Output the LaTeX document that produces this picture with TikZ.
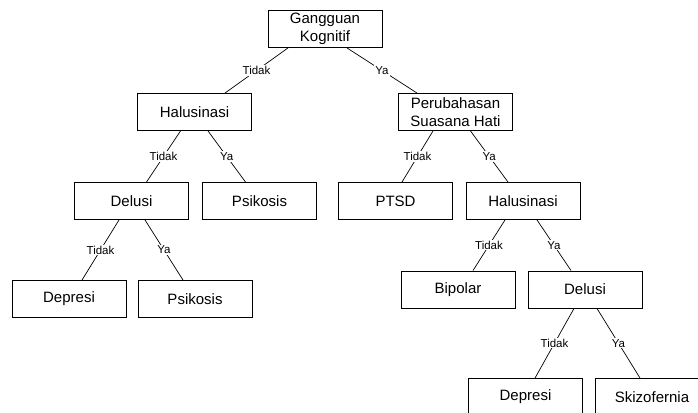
\documentclass[tikz,border=0pt]{standalone}
\usepackage{fontspec}
\setmainfont{Liberation Sans}
\begin{document}
\begin{tikzpicture}[x=1pt,y=-1pt,
	kotak/.style={draw=black, line width=0.9pt, minimum width=114pt, minimum height=37pt,
		align=center, inner sep=1pt, font=\fontsize{15}{17.5}\selectfont},
	lbl/.style={fill=white, inner sep=1pt, font=\fontsize{11.5}{12}\selectfont},
	cab/.style={line width=0.7pt}]
	\clip (0,0) rectangle (698,412);
	% kotak-kotak
	\node[kotak] (kog) at (325,29) {Gangguan\\Kognitif};
	\node[kotak] (hal1) at (194.5,112) {Halusinasi};
	\node[kotak] (ubah) at (455.5,112) {Perubahasan\\Suasana Hati};
	\node[kotak] (del1) at (131.5,201) {Delusi};
	\node[kotak] (psi1) at (259.5,201) {Psikosis};
	\node[kotak] (ptsd) at (395.5,201) {PTSD};
	\node[kotak] (hal2) at (523,201) {Halusinasi};
	\node[kotak] (dep1) at (69,299) {Depresi};
	\node[kotak] (psi2) at (195,299) {Psikosis};
	\node[kotak] (bip) at (458,289.5) {Bipolar};
	\node[kotak] (del2) at (585,289.5) {Delusi};
	\node[kotak] (dep2) at (525.5,397) {Depresi};
	\node[kotak] (skz) at (652,397) {Skizofernia};
	% cabang
	\draw[cab] ([xshift=-37pt]kog.south) -- node[lbl]{Tidak} ([xshift=30.5pt]hal1.north);
	\draw[cab] ([xshift=22pt]kog.south) -- node[lbl]{Ya} ([xshift=-38.5pt]ubah.north);
	\draw[cab] ([xshift=-14pt]hal1.south) -- node[lbl]{Tidak} ([xshift=15pt]del1.north);
	\draw[cab] ([xshift=13.5pt]hal1.south) -- node[lbl]{Ya} ([xshift=-14pt]psi1.north);
	\draw[cab] ([xshift=-12.5pt]del1.south) -- node[lbl]{Tidak} ([xshift=13pt]dep1.north);
	\draw[cab] ([xshift=13.5pt]del1.south) -- node[lbl]{Ya} ([xshift=-12pt]psi2.north);
	\draw[cab] ([xshift=-22.5pt]ubah.south) -- node[lbl]{Tidak} ([xshift=6.5pt]ptsd.north);
	\draw[cab] ([xshift=15pt]ubah.south) -- node[lbl]{Ya} ([xshift=-15pt]hal2.north);
	\draw[cab] ([xshift=-18pt]hal2.south) -- node[lbl]{Tidak} ([xshift=15pt]bip.north);
	\draw[cab] ([xshift=14pt]hal2.south) -- node[lbl]{Ya} ([xshift=-14pt]del2.north);
	\draw[cab] ([xshift=-11pt]del2.south) -- node[lbl]{Tidak} ([xshift=9.5pt]dep2.north);
	\draw[cab] ([xshift=12pt]del2.south) -- node[lbl]{Ya} ([xshift=-12pt]skz.north);
\end{tikzpicture}
\end{document}
